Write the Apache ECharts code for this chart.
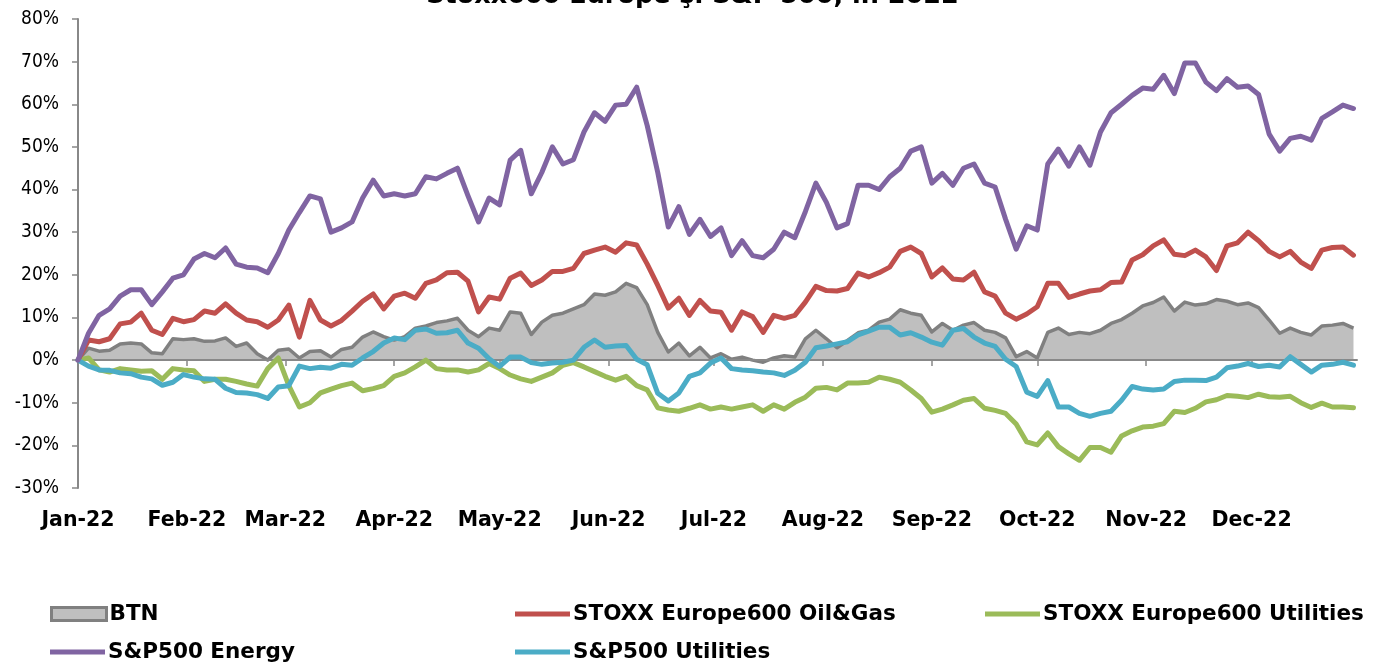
<!DOCTYPE html>
<html>
<head>
<meta charset="utf-8">
<script src="https://cdn.jsdelivr.net/npm/echarts@6/dist/echarts.min.js"></script>
<style>
html,body{margin:0;padding:0;background:#fff;}
#chart{width:1385px;height:666px;}
</style>
</head>
<body>
<div id="chart"></div>
<script>
// Tick labels and positions (day index from start of year)
const monthLabels = ['Jan-22','Feb-22','Mar-22','Apr-22','May-22','Jun-22','Jul-22','Aug-22','Sep-22','Oct-22','Nov-22','Dec-22'];
const monthStarts = [0,31,59,90,120,151,181,212,243,273,304,334];
const yTicks = [-30,-20,-10,0,10,20,30,40,50,60,70,80];

// sampled observation days (every third day of 2022)
const sampleDays = [];
for (let i = 0; i < 122; i++) sampleDays.push(i * 3);

// series values (% change since start of year)
const btn = [0,2.8,2.1,2.3,3.8,4,3.8,1.7,1.5,5, 4.8,5,4.4,4.5,5.2,3.2,4,1.5,0,2.3, 2.6,0.5,2,2.2,0.7,2.5,3,5.4,6.6,5.5, 4.7,5.5,7.5,8,8.8,9.2,9.8,7,5.5,7.5, 7,11.3,11,6,8.9,10.5,11,12,13,15.5, 15.2,16,18,17,13,6.5,1.9,4,1,3, 0.5,1.5,0.2,0.7,0,-0.5,0.5,1,0.7,5, 7,5,2.9,4.6,6.4,7,8.9,9.6,11.8,11, 10.5,6.6,8.6,7,8.2,8.8,7,6.5,5.2,0.8, 2,0.5,6.5,7.5,6,6.5,6.2,7,8.6,9.5, 11,12.7,13.5,14.8,11.5,13.6,12.9,13.2,14.2,13.8, 13,13.4,12.3,9.4,6.3,7.5,6.5,5.9,8,8.2, 8.6,7.5];
const oilGas = [0,4.7,4.3,5,8.5,8.9,11,7,6,9.8, 9,9.5,11.5,11,13.2,11,9.4,9,7.7,9.4, 12.9,5.4,14,9.4,8,9.3,11.5,13.8,15.5,12, 15,15.7,14.5,18,18.8,20.5,20.6,18.5,11.3,14.8, 14.3,19.2,20.4,17.5,18.8,20.8,20.8,21.5,25,25.8, 26.5,25.3,27.5,27,22.5,17.5,12.2,14.5,10.5,14, 11.5,11.2,7,11.3,10.2,6.5,10.5,9.8,10.5,13.6, 17.3,16.3,16.2,16.8,20.4,19.5,20.5,21.8,25.5,26.5, 25,19.5,21.6,19,18.8,20.6,16,15,11,9.6, 10.8,12.5,18,18,14.7,15.5,16.2,16.5,18.2,18.3, 23.5,24.7,26.8,28.2,24.8,24.5,25.8,24.2,21,26.8, 27.5,30,28,25.5,24.2,25.5,23,21.5,25.8,26.4, 26.5,24.6];
const euUtilities = [0,0.5,-2.3,-2.8,-2,-2.3,-2.6,-2.5,-4.5,-2, -2.3,-2.5,-5,-4.5,-4.5,-5,-5.6,-6.1,-2,0.5, -6,-11,-10,-7.7,-6.8,-6,-5.4,-7.2,-6.7,-6, -3.8,-3,-1.6,0,-2,-2.3,-2.3,-2.8,-2.3,-0.8, -2,-3.5,-4.4,-5,-4,-3,-1.2,-0.6,-1.6,-2.7, -3.8,-4.7,-3.8,-6,-7,-11.2,-11.7,-12,-11.3,-10.5, -11.5,-11,-11.5,-11,-10.5,-12,-10.5,-11.5,-9.9,-8.7, -6.6,-6.4,-7,-5.4,-5.4,-5.2,-4,-4.5,-5.2,-7, -9,-12.2,-11.5,-10.5,-9.4,-9,-11.3,-11.8,-12.5,-15, -19.2,-19.9,-17.1,-20.3,-22,-23.5,-20.5,-20.5,-21.6,-17.8, -16.6,-15.7,-15.5,-14.9,-12,-12.3,-11.3,-9.8,-9.3,-8.3, -8.5,-8.8,-8,-8.6,-8.7,-8.5,-10,-11.1,-10.1,-11, -11,-11.2];
const spEnergy = [0,6.3,10.5,12,15,16.5,16.5,13,16,19.2, 20,23.7,25,24,26.3,22.5,21.8,21.6,20.5,25, 30.5,34.6,38.5,37.8,30,31,32.4,38,42.2,38.5, 39,38.5,39,43,42.5,43.8,45,38.5,32.4,38, 36.4,46.9,49.2,39,44,50,46,47,53.5,58, 56,59.8,60,64,55,44,31.2,36,29.5,33, 29,31,24.5,28,24.5,24,26,30,28.7,34.8, 41.5,37,31,32,41,41,40,43,45,49, 50,41.5,43.8,41,45,46,41.5,40.6,33,26, 31.5,30.5,46,49.5,45.5,50,45.7,53.5,58,60, 62.1,63.8,63.5,66.8,62.5,69.7,69.7,65.2,63.2,66, 64,64.3,62.3,53,49,52,52.5,51.6,56.7,58.2, 59.8,59];
const spUtilities = [0,-1.4,-2.3,-2.4,-3,-3.2,-4,-4.4,-5.9,-5.2, -3.4,-4,-4.4,-4.5,-6.6,-7.6,-7.7,-8.1,-9,-6.3, -6,-1.4,-2,-1.7,-1.9,-1,-1.2,0.5,2,4, 5.2,4.8,7,7.3,6.3,6.4,7,4,2.8,0.3, -1.5,0.7,0.7,-0.6,-1,-0.7,-0.5,0,3,4.7, 3,3.3,3.4,0.2,-1.1,-7.8,-9.6,-7.7,-3.8,-3, -0.7,0.5,-2,-2.3,-2.5,-2.8,-3,-3.6,-2.4,-0.5, 2.9,3.3,3.8,4.3,5.9,6.8,7.7,7.7,5.9,6.4, 5.4,4.2,3.5,7,7.4,5.4,4,3.2,0.2,-1.5, -7.5,-8.5,-4.8,-11,-11,-12.5,-13.2,-12.5,-12,-9.4, -6.2,-6.8,-7,-6.8,-5,-4.7,-4.7,-4.8,-4,-1.8, -1.4,-0.8,-1.5,-1.2,-1.6,0.8,-1,-2.8,-1.2,-1, -0.5,-1.2];

const names = ['BTN','STOXX Europe600 Oil&Gas','STOXX Europe600 Utilities','S&P500 Energy','S&P500 Utilities'];
const colors = ['#808080','#C0504D','#9BBB59','#8064A2','#4BACC6'];

const categories = [];
for (let d = 0; d < 365; d++) categories.push(String(d));
const pairs = vals => vals.map((v, i) => [sampleDays[i], v]);

const FONT_C = '"DejaVu Sans Condensed", "DejaVu Sans", sans-serif';
const FONT_B = '"DejaVu Sans", sans-serif';

const chart = echarts.init(document.getElementById('chart'), null, {renderer: 'canvas'});

function lineSeries(idx, vals, z) {
  return {
    name: names[idx], type: 'line', data: pairs(vals), xAxisIndex: 0,
    symbol: 'none', z: z,
    lineStyle: {color: colors[idx], width: 5, join: 'round', cap: 'round'},
    itemStyle: {color: colors[idx]}
  };
}

function legendAt(idx, left, top) {
  const isArea = idx === 0;
  return {
    data: [names[idx]], left: left, top: top, padding: 0,
    icon: 'rect', itemWidth: 55, itemHeight: isArea ? 13 : 5, itemGap: 0,
    itemStyle: isArea ? {color: '#BFBFBF', borderColor: '#808080', borderWidth: 3}
                      : {color: colors[idx], borderWidth: 0},
    textStyle: {fontFamily: FONT_B, fontWeight: 'bold', fontSize: 21.5, color: '#000', padding: [0,0,0,-2]},
    selectedMode: false
  };
}

chart.setOption({
  animation: false,
  title: {
    text: 'Stoxx600 Europe şi S&P 500, în 2022',
    left: 'center', top: -22,
    textStyle: {fontFamily: FONT_B, fontWeight: 'bold', fontSize: 25.5, color: '#000'}
  },
  grid: {left: 78, right: 28, top: 19, bottom: 178},
  legend: [
    legendAt(0, 50, 603),
    legendAt(1, 515, 603),
    legendAt(2, 985, 603),
    legendAt(3, 50, 641),
    legendAt(4, 515, 641)
  ],
  xAxis: [
    {
      type: 'category', data: categories, boundaryGap: false, position: 'bottom',
      axisLine: {show: false, onZero: false}, axisTick: {show: false}, splitLine: {show: false},
      axisLabel: {
        interval: (i) => monthStarts.indexOf(i) >= 0,
        formatter: (v, i) => monthLabels[monthStarts.indexOf(Number(v))],
        fontFamily: FONT_B, fontWeight: 'bold', fontSize: 20.5, color: '#000', margin: 22
      }
    },
    {
      type: 'category', data: categories, boundaryGap: false, position: 'top',
      axisLine: {show: true, onZero: true, lineStyle: {color: '#888888', width: 2}},
      axisTick: {show: true, inside: true, length: 6, interval: (i) => monthStarts.indexOf(i) >= 0,
                 lineStyle: {color: '#888888', width: 1.5}},
      axisLabel: {show: false}, splitLine: {show: false}, z: 1.5
    }
  ],
  yAxis: {
    type: 'value', min: -30, max: 80, interval: 10,
    axisLine: {show: true, lineStyle: {color: '#888888', width: 2}},
    axisTick: {show: true, length: 6, lineStyle: {color: '#888888', width: 1.5}},
    splitLine: {show: false},
    axisLabel: {formatter: '{value}%', fontFamily: FONT_C, fontSize: 19, color: '#000', margin: 19}
  },
  series: [
    {
      name: names[0], type: 'line', data: pairs(btn), xAxisIndex: 0, symbol: 'none', z: 1,
      lineStyle: {color: '#808080', width: 3.5, join: 'round'},
      itemStyle: {color: '#BFBFBF'},
      areaStyle: {color: '#BFBFBF', opacity: 1}
    },
    lineSeries(2, euUtilities, 2),
    lineSeries(1, oilGas, 3),
    lineSeries(4, spUtilities, 4),
    lineSeries(3, spEnergy, 5)
  ]
});
</script>
</body>
</html>
